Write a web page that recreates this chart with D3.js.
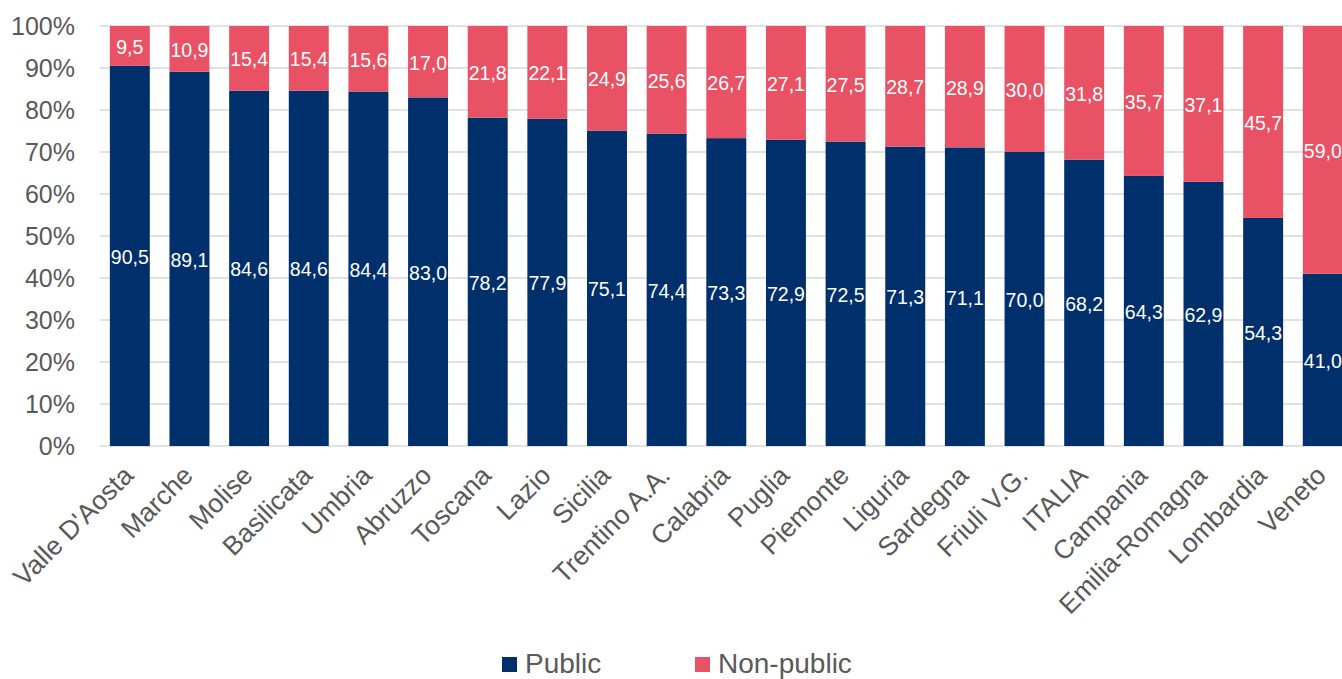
<!DOCTYPE html>
<html>
<head>
<meta charset="utf-8">
<script src="https://cdn.jsdelivr.net/npm/d3@7"></script>
<style>
  body { margin: 0; background: #fff; }
  text { font-family: "Liberation Sans", Arial, sans-serif; }
</style>
</head>
<body>
<div id="chart"></div>
<script>
// data
const regions = ["Valle D'Aosta", "Marche", "Molise", "Basilicata", "Umbria", "Abruzzo", "Toscana", "Lazio", "Sicilia", "Trentino A.A.", "Calabria", "Puglia", "Piemonte", "Liguria", "Sardegna", "Friuli V.G.", "ITALIA", "Campania", "Emilia-Romagna", "Lombardia", "Veneto"];
const publicVals = [90.5, 89.1, 84.6, 84.6, 84.4, 83.0, 78.2, 77.9, 75.1, 74.4, 73.3, 72.9, 72.5, 71.3, 71.1, 70.0, 68.2, 64.3, 62.9, 54.3, 41.0];
const nonPublicVals = [9.5, 10.9, 15.4, 15.4, 15.6, 17.0, 21.8, 22.1, 24.9, 25.6, 26.7, 27.1, 27.5, 28.7, 28.9, 30.0, 31.8, 35.7, 37.1, 45.7, 59.0];
const yTicks = [0, 10, 20, 30, 40, 50, 60, 70, 80, 90, 100];
const seriesNames = ["Public", "Non-public"];
const colors = ["#00306b", "#e85264"];

const width = 1342, height = 679;
const svg = d3.select('#chart').append('svg')
    .attr('width', width)
    .attr('height', height);

const x = d3.scaleBand()
    .domain(regions)
    .range([100, 1352.6])
    .paddingInner(0.33)
    .paddingOuter(0.165);

const y = d3.scaleLinear()
    .domain([0, 100])
    .range([446, 26]);

// gridlines
svg.append("g")
    .selectAll("line")
    .data(yTicks)
    .enter().append("line")
    .attr("x1", 100)
    .attr("x2", width)
    .attr("y1", d => y(d))
    .attr("y2", d => y(d))
    .attr("stroke", "#d9d9d9")
    .attr("stroke-width", 1.3);

// y tick labels
svg.append("g")
    .selectAll("text")
    .data(yTicks)
    .enter().append("text")
    .attr("x", 75)
    .attr("y", d => y(d))
    .attr("dy", "0.35em")
    .attr("text-anchor", "end")
    .attr("font-size", 25)
    .attr("fill", "#595959")
    .text(d => d + "%");

// stacked data
const rows = regions.map((r, i) => ({ region: r, pub: publicVals[i], non: nonPublicVals[i] }));
const stack = d3.stack().keys(["pub", "non"]);
const series = stack(rows);

const layers = svg.append("g")
    .selectAll("g")
    .data(series)
    .enter().append("g")
    .attr("fill", (d, i) => colors[i]);

layers.selectAll("rect")
    .data(d => d)
    .enter().append("rect")
    .attr("x", d => x(d.data.region))
    .attr("width", x.bandwidth())
    .attr("y", d => y(d[1]))
    .attr("height", d => y(d[0]) - y(d[1]));

// value labels
const fmt = v => v.toFixed(1).replace(".", ",");
layers.selectAll("text")
    .data((d, i) => d.map(p => ({ p: p, key: i })))
    .enter().append("text")
    .attr("x", d => x(d.p.data.region) + x.bandwidth() / 2)
    .attr("y", d => y((d.p[0] + d.p[1]) / 2) + 1)
    .attr("dy", "0.36em")
    .attr("text-anchor", "middle")
    .attr("font-size", 19.5)
    .attr("fill", "#fff")
    .text(d => fmt(d.p[1] - d.p[0]));

// x labels
svg.append("g")
    .selectAll("text")
    .data(regions)
    .enter().append("text")
    .attr("transform", d => "translate(" + (x(d) + x.bandwidth() / 2 + 5) + ",477) rotate(-45)")
    .attr("text-anchor", "end")
    .attr("font-size", 26.5)
    .attr("fill", "#595959")
    .text(d => d);

// legend
const legendX = [502, 695];
const legend = svg.append("g")
    .selectAll("g")
    .data(seriesNames)
    .enter().append("g")
    .attr("transform", (d, i) => "translate(" + legendX[i] + ",657)");

legend.append("rect")
    .attr("width", 15)
    .attr("height", 15)
    .attr("fill", (d, i) => colors[i]);

legend.append("text")
    .attr("x", 23)
    .attr("y", 16)
    .attr("font-size", 28)
    .attr("fill", "#595959")
    .text(d => d);
</script>
</body>
</html>
